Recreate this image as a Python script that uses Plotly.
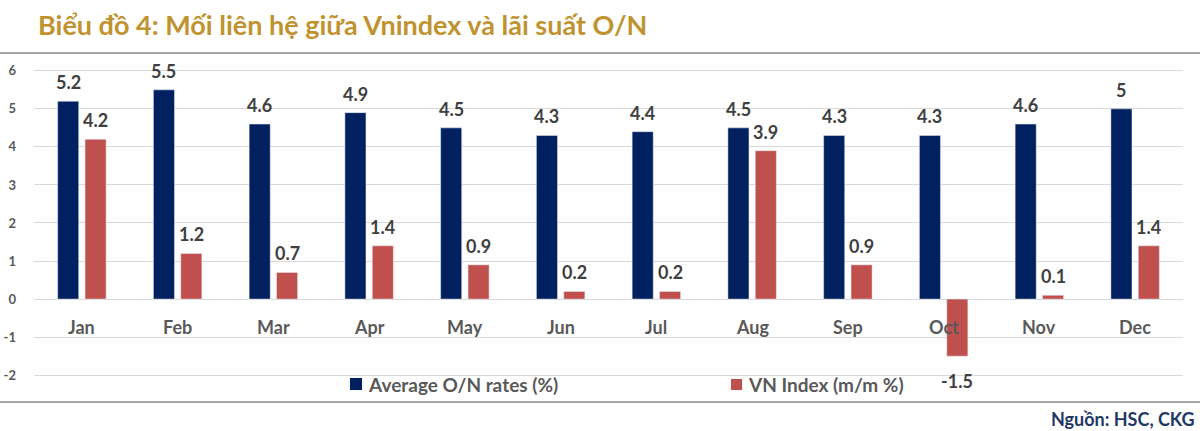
import plotly.graph_objects as go

months = ["Jan", "Feb", "Mar", "Apr", "May", "Jun", "Jul", "Aug", "Sep", "Oct", "Nov", "Dec"]
on_rates = [5.2, 5.5, 4.6, 4.9, 4.5, 4.3, 4.4, 4.5, 4.3, 4.3, 4.6, 5]
vn_index = [4.2, 1.2, 0.7, 1.4, 0.9, 0.2, 0.2, 3.9, 0.9, -1.5, 0.1, 1.4]
y_ticks = [-2, -1, 0, 1, 2, 3, 4, 5, 6]
y_ticktext = ["-2", "-1", "0", "1", "2", "3", "4", "5", "6"]

name_on = "Average O/N rates (%)"
name_vn = "VN Index (m/m %)"
title_text = "Biểu đồ 4: Mối liên hệ giữa Vnindex và lãi suất O/N"
source_text = "Nguồn: HSC, CKG"

BLUE = "#002060"
RED = "#C0504D"
LABEL = "#404040"
FONT = "Lato"

W, H = 1200, 431
L, R, T, B = 34, 17, 67, 33
pw = W - L - R
ph = H - T - B
BAR_W = 0.22
OFF_ON = -0.253
OFF_VN = 0.033


def py(pixel_y):
    return (H - B - pixel_y) / ph


def px(pixel_x):
    return (pixel_x - L) / pw


def fmt(v):
    return f"{v:g}"


fig = go.Figure()
fig.add_trace(go.Bar(
    x=months, y=on_rates, name=name_on, marker_color=BLUE,
    width=BAR_W, offset=OFF_ON, showlegend=False,
))
fig.add_trace(go.Bar(
    x=months, y=vn_index, name=name_vn, marker_color=RED,
    width=BAR_W, offset=OFF_VN, showlegend=False,
))

band_px = pw / len(months)
annotations = []
for series, off in ((on_rates, OFF_ON), (vn_index, OFF_VN)):
    shift = (off + BAR_W / 2) * band_px
    for m, v in zip(months, series):
        annotations.append(dict(
            x=m, y=v, xref="x", yref="y", text=fmt(v), showarrow=False,
            xshift=shift, yshift=6 if v >= 0 else -12,
            xanchor="center", yanchor="bottom" if v >= 0 else "top",
            font=dict(family=FONT, size=18, color=LABEL, weight="bold"),
        ))

for m in months:
    annotations.append(dict(
        x=m, y=-0.74, xref="x", yref="y", text=m, showarrow=False,
        font=dict(family=FONT, size=18, color="#595959", weight="bold"),
        xanchor="center", yanchor="middle",
    ))

annotations.append(dict(
    x=px(366), y=py(384), xref="paper", yref="paper", showarrow=False,
    xanchor="left", yanchor="middle", text=name_on,
    font=dict(family=FONT, size=19, color="#595959", weight="bold"),
))
annotations.append(dict(
    x=px(746), y=py(384), xref="paper", yref="paper", showarrow=False,
    xanchor="left", yanchor="middle", text=name_vn,
    font=dict(family=FONT, size=19, color="#595959", weight="bold"),
))
annotations.append(dict(
    x=px(1197), y=py(419), xref="paper", yref="paper", showarrow=False,
    xanchor="right", yanchor="middle", text=source_text,
    font=dict(family=FONT, size=18, color="#1F3864", weight="bold"),
))

shapes = [
    dict(type="line", xref="paper", yref="paper", x0=px(0), x1=px(W), y0=py(53), y1=py(53),
         line=dict(color="#A6A6A6", width=2)),
    dict(type="line", xref="paper", yref="paper", x0=px(0), x1=px(W), y0=py(402), y1=py(402),
         line=dict(color="#A6A6A6", width=2)),
    dict(type="rect", xref="paper", yref="paper", x0=px(350), x1=px(362), y0=py(390), y1=py(378),
         fillcolor=BLUE, line=dict(width=0)),
    dict(type="rect", xref="paper", yref="paper", x0=px(731), x1=px(742), y0=py(390), y1=py(379),
         fillcolor=RED, line=dict(width=0)),
]

fig.update_layout(
    width=W, height=H,
    margin=dict(l=L, r=R, t=T, b=B, autoexpand=False),
    paper_bgcolor="white", plot_bgcolor="white",
    barmode="overlay",
    title=dict(text=title_text, x=38 / W, xanchor="left", y=1 - 26 / H, yanchor="middle",
               font=dict(family=FONT, size=27, color="#BF9430", weight="bold")),
    xaxis=dict(showticklabels=False, showgrid=False, zeroline=False, showline=False,
               categoryorder="array", categoryarray=months),
    yaxis=dict(range=[-2.6, 6.1], tickvals=y_ticks, ticktext=y_ticktext,
               showgrid=True, gridcolor="#D9D9D9",
               gridwidth=1, zeroline=True, zerolinecolor="#D9D9D9", zerolinewidth=1,
               showline=False, ticklabelstandoff=17,
               tickfont=dict(family=FONT, size=13, color="#595959", weight="bold")),
    annotations=annotations,
    shapes=shapes,
    showlegend=False,
)

fig.write_html("out.html", config={"displayModeBar": False},
               post_script="document.body.style.margin='0';document.body.style.overflow='hidden';")
